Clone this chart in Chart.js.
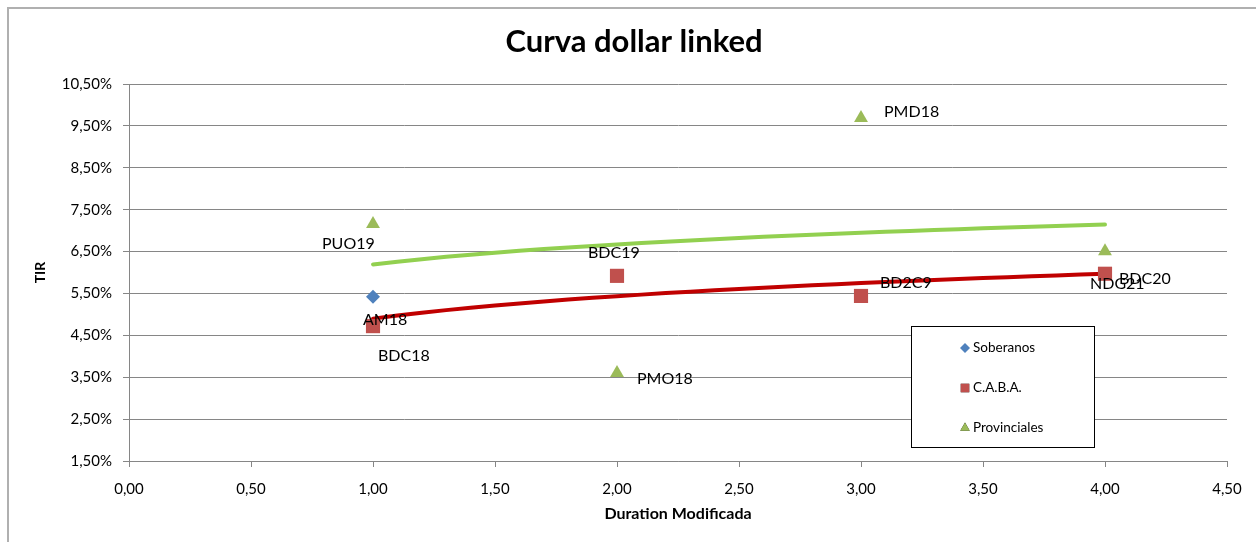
<!DOCTYPE html>
<html>
<head>
<meta charset="utf-8">
<title>Curva dollar linked</title>
<script src="https://cdn.jsdelivr.net/npm/chart.js@4.4.1/dist/chart.umd.min.js"></script>
<style>
    html, body { margin: 0; padding: 0; background: #fff; overflow: hidden; }
    #wrap { position: relative; width: 1256px; height: 542px; }
    #frame { position: absolute; left: 7px; top: 7px; width: 1300px; height: 600px;
             border-left: 2px solid #b0b0b0; border-top: 2px solid #b0b0b0; }
    canvas { position: absolute; left: 0; top: 0; }
</style>
</head>
<body>
<div id="wrap">
    <div id="frame"></div>
    <canvas id="chart" width="1256" height="542"></canvas>
</div>
<script>
// Datos (duration modificada vs TIR en %)
const soberanosX = [1];
const soberanosY = [5.42];
const soberanosNombres = ["AM18"];

const cabaX = [1, 2, 3, 4];
const cabaY = [4.72, 5.92, 5.44, 5.97];
const cabaNombres = ["BDC18", "BDC19", "BD2C9", "BDC20"];

const provX = [1, 2, 3, 4];
const provY = [7.16, 3.60, 9.69, 6.51];
const provNombres = ["PUO19", "PMO18", "PMD18", "NDG21"];

const xMin = 0, xMax = 4.5, xStep = 0.5;
const yMin = 1.5, yMax = 10.5, yStep = 1;

// Posición de las etiquetas (desplazamiento en px desde el punto, texto alineado a la izquierda)
const offsetsSoberanos = [[-10, 23]];
const offsetsCaba = [[5, 30], [-29, -23], [19, -13], [14, 5]];
const offsetsProv = [[-51, 20], [20, 6], [23, -6], [-15, 33]];

const FONT = "Lato, 'Open Sans', sans-serif";
const AZUL = "#4F81BD", ROJO = "#C0504D", VERDE = "#9BBB59";
const GRIS = "#868686";

const toPoints = (xs, ys) => xs.map((x, i) => ({ x: x, y: ys[i] }));

// Línea de tendencia logarítmica (como la de Excel): y = a + b ln(x)
function tendenciaLog(xs, ys) {
    const lx = xs.map(x => Math.log(x));
    const n = xs.length;
    const mx = lx.reduce((s, v) => s + v, 0) / n;
    const my = ys.reduce((s, v) => s + v, 0) / n;
    let sxy = 0, sxx = 0;
    lx.forEach((v, i) => { sxy += (v - mx) * (ys[i] - my); sxx += (v - mx) * (v - mx); });
    const b = sxy / sxx, a = my - b * mx;
    const x0 = Math.min(...xs), x1 = Math.max(...xs);
    const pts = [];
    for (let k = 0; k <= 30; k++) {
        const x = x0 + (x1 - x0) * k / 30;
        pts.push({ x: x, y: a + b * Math.log(x) });
    }
    return pts;
}

const fmt = (v, d) => v.toFixed(d).replace(".", ",");

// Título
const tituloPlugin = {
    id: "titulo",
    afterDraw(chart) {
        const ctx = chart.ctx;
        ctx.save();
        ctx.font = "bold 31px " + FONT;
        ctx.fillStyle = "#000";
        ctx.textAlign = "center";
        ctx.textBaseline = "middle";
        ctx.fillText("Curva dollar linked", 634, 42);
        ctx.restore();
    }
};

// Etiquetas de cada punto
const etiquetasPlugin = {
    id: "etiquetas",
    afterDatasetsDraw(chart) {
        const ctx = chart.ctx;
        ctx.save();
        ctx.font = "16px " + FONT;
        ctx.fillStyle = "#000";
        ctx.textAlign = "left";
        ctx.textBaseline = "middle";
        chart.data.datasets.forEach((ds, di) => {
            if (!ds.nombres) return;
            const meta = chart.getDatasetMeta(di);
            meta.data.forEach((el, i) => {
                const off = ds.offsets[i];
                ctx.fillText(ds.nombres[i], el.x + off[0], el.y + off[1]);
            });
        });
        ctx.restore();
    }
};

// Leyenda dentro del área del gráfico
const leyendaPlugin = {
    id: "leyenda",
    afterDraw(chart) {
        const ctx = chart.ctx;
        const bx = 911, by = 326, bw = 183, bh = 121;
        ctx.save();
        ctx.fillStyle = "#fff";
        ctx.fillRect(bx, by, bw, bh);
        ctx.strokeStyle = "#000";
        ctx.lineWidth = 1;
        ctx.strokeRect(bx + 0.5, by + 0.5, bw, bh);
        ctx.font = "13.5px " + FONT;
        ctx.textBaseline = "middle";
        ctx.textAlign = "left";
        const items = chart.data.datasets.filter(d => d.nombres);
        items.forEach((ds, i) => {
            const y = by + 22 + i * 40;
            Chart.helpers.drawPoint(ctx, {
                pointStyle: ds.pointStyle, radius: ds.legendRadius, rotation: 0, borderWidth: 0
            }, 965, y);
            ctx.fillStyle = ds.backgroundColor;
            ctx.fill();
            ctx.fillStyle = "#000";
            ctx.fillText(ds.label, 973, y);
        });
        ctx.restore();
    }
};

new Chart(document.getElementById("chart"), {
    type: "scatter",
    data: {
        datasets: [
            {
                label: "Soberanos", data: toPoints(soberanosX, soberanosY),
                nombres: soberanosNombres, offsets: offsetsSoberanos,
                pointStyle: "rectRot", pointRadius: 7, legendRadius: 5,
                backgroundColor: AZUL, borderColor: AZUL, borderWidth: 0
            },
            {
                label: "C.A.B.A.", data: toPoints(cabaX, cabaY),
                nombres: cabaNombres, offsets: offsetsCaba,
                pointStyle: "rect", pointRadius: 10, legendRadius: 6,
                backgroundColor: ROJO, borderColor: ROJO, borderWidth: 0
            },
            {
                label: "Provinciales", data: toPoints(provX, provY),
                nombres: provNombres, offsets: offsetsProv,
                pointStyle: "triangle", pointRadius: 8, legendRadius: 5.5,
                backgroundColor: VERDE, borderColor: VERDE, borderWidth: 0
            },
            {
                label: "Tendencia C.A.B.A.", data: tendenciaLog(cabaX, cabaY),
                showLine: true, pointRadius: 0, borderColor: "#C00000", borderWidth: 4,
                borderCapStyle: "round"
            },
            {
                label: "Tendencia Provinciales", data: tendenciaLog(provX, provY),
                showLine: true, pointRadius: 0, borderColor: "#92D050", borderWidth: 4,
                borderCapStyle: "round"
            }
        ]
    },
    options: {
        responsive: false,
        animation: false,
        layout: { padding: { top: 84, right: 29, left: 0, bottom: 0 } },
        plugins: {
            legend: { display: false },
            tooltip: { enabled: false },
            title: { display: false }
        },
        scales: {
            x: {
                type: "linear", min: xMin, max: xMax,
                afterFit(scale) { scale.height = 81; },
                ticks: {
                    stepSize: xStep, padding: 13, color: "#000",
                    font: { family: FONT, size: 15 },
                    callback: v => fmt(v, 2)
                },
                grid: { drawOnChartArea: false, drawTicks: true, tickLength: 6, color: GRIS },
                border: { color: GRIS },
                title: {
                    display: true, text: "Duration Modificada", color: "#000",
                    font: { family: FONT, size: 16, weight: "bold" },
                    padding: { top: 0, bottom: 19 }
                }
            },
            y: {
                type: "linear", min: yMin, max: yMax,
                afterFit(scale) { scale.width = 129; },
                ticks: {
                    stepSize: yStep, padding: 11, color: "#000",
                    font: { family: FONT, size: 15 },
                    callback: v => fmt(v, 2) + "%"
                },
                grid: { color: GRIS, tickLength: 6 },
                border: { color: GRIS },
                title: {
                    display: true, text: "TIR", color: "#000",
                    font: { family: FONT, size: 14, weight: "bold" },
                    padding: { top: 32, bottom: 0 }
                }
            }
        }
    },
    plugins: [tituloPlugin, etiquetasPlugin, leyendaPlugin]
});
</script>
</body>
</html>
